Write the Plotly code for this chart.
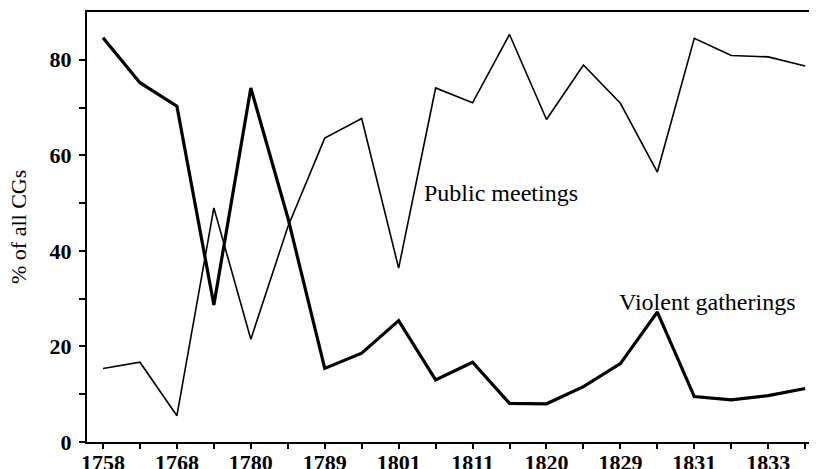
import plotly.graph_objects as go

# 20 periods; only every other one is labelled in the original
tick_labels = ["1758", "", "1768", "", "1780", "", "1789", "", "1801", "",
               "1811", "", "1820", "", "1829", "", "1831", "", "1833", ""]
periods = list(range(len(tick_labels)))

public_meetings = [15.4, 16.7, 5.5, 49.0, 21.5, 45.0, 63.6, 67.7, 36.4, 74.1,
                   71.0, 85.3, 67.5, 78.9, 70.9, 56.5, 84.5, 80.9, 80.6, 78.7]
violent_gatherings = [84.6, 75.2, 70.3, 28.7, 74.1, 47.0, 15.4, 18.6, 25.4, 13.0,
                      16.7, 8.1, 8.0, 11.6, 16.4, 27.2, 9.5, 8.8, 9.7, 11.2]

FONT = "Liberation Serif"

fig = go.Figure()
fig.add_trace(go.Scatter(x=periods, y=public_meetings, mode="lines",
                         line=dict(color="black", width=1.6),
                         name="Public meetings", showlegend=False))
fig.add_trace(go.Scatter(x=periods, y=violent_gatherings, mode="lines",
                         line=dict(color="black", width=3.2),
                         name="Violent gatherings", showlegend=False))

fig.add_annotation(x=8.63, y=52.2, text="Public meetings", showarrow=False,
                   xanchor="left", yanchor="middle",
                   font=dict(family=FONT, size=24, color="black"))
fig.add_annotation(x=13.91, y=29.4, text="Violent gatherings", showarrow=False,
                   xanchor="left", yanchor="middle",
                   font=dict(family=FONT, size=24, color="black"))
fig.add_annotation(xref="paper", yref="paper", x=-0.0945, y=0.5,
                   text="% of all CGs", showarrow=False, textangle=-90,
                   xanchor="center", yanchor="middle",
                   font=dict(family=FONT, size=22, color="black"))

# the page body adds an 8px offset, so the figure is 8px smaller than the window
fig.update_layout(
    width=809, height=461,
    margin=dict(l=79, r=0, t=4, b=27, autoexpand=False),
    paper_bgcolor="white", plot_bgcolor="white",
    font=dict(family=FONT, color="black"),
    xaxis=dict(
        range=[-0.433, 19.32], automargin=False,
        tickmode="array", tickvals=periods, ticktext=tick_labels,
        ticks="outside", ticklen=5, tickwidth=1.5, tickcolor="black",
        ticklabelstandoff=-5,
        showline=True, linecolor="black", linewidth=2, mirror=True,
        showgrid=False, zeroline=False,
        tickfont=dict(family=FONT, size=22, color="black", weight="bold"),
    ),
    yaxis=dict(
        range=[0, 90], automargin=False,
        tickmode="array", tickvals=[0, 10, 20, 30, 40, 50, 60, 70, 80],
        ticktext=["0", "", "20", "", "40", "", "60", "", "80"],
        ticks="outside", ticklen=6, tickwidth=1.5, tickcolor="black",
        ticklabelstandoff=3,
        showline=True, linecolor="black", linewidth=2,
        showgrid=False, zeroline=False,
        tickfont=dict(family=FONT, size=22, color="black", weight="bold"),
    ),
)

fig.write_html("out.html")
